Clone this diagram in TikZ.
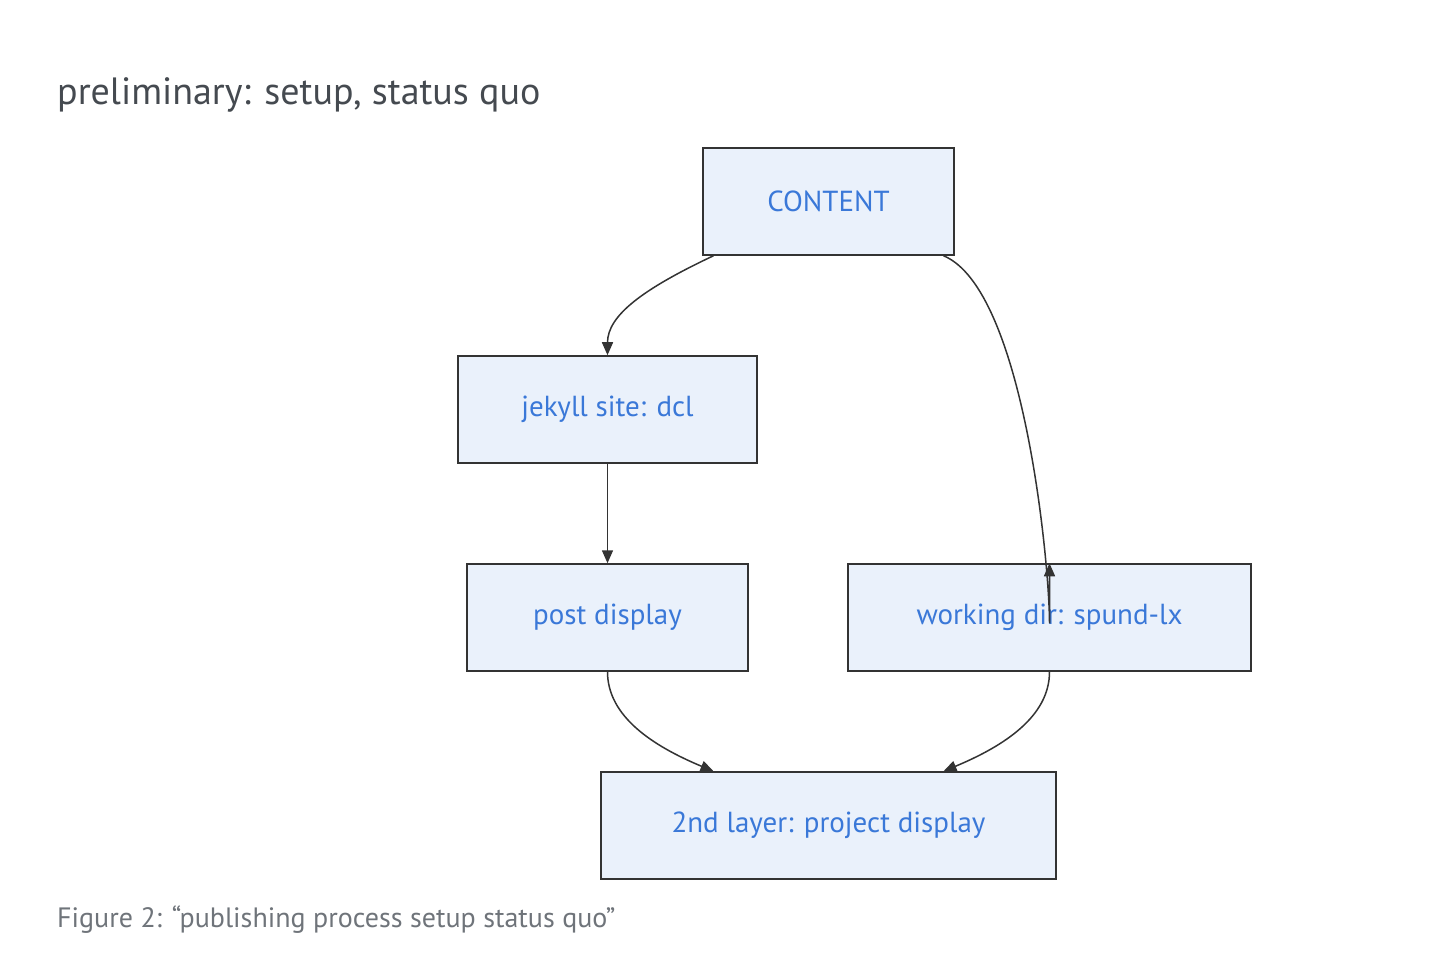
\documentclass[tikz,border=0pt]{standalone}
\usepackage{fontspec}
\setmainfont{PT Sans}
\usetikzlibrary{arrows.meta}
\definecolor{boxfill}{HTML}{EAF1FB}
\definecolor{boxtext}{HTML}{3A78D8}
\definecolor{edge}{HTML}{333333}
\definecolor{titlec}{HTML}{454A50}
\definecolor{capc}{HTML}{6F747A}
\begin{document}
\begin{tikzpicture}[x=1pt,y=-1pt,
  box/.style={draw=edge,line width=1.5pt,fill=boxfill,text=boxtext,font=\fontsize{29}{34}\selectfont,inner sep=0pt,minimum height=107pt,anchor=center},
  arr/.style={draw=edge,line width=1.5pt,-{Triangle[length=13pt,width=11pt]}}]
\useasboundingbox (0,0) rectangle (1446,968);
\node[anchor=base west,text=titlec,font=\fontsize{38}{44}\selectfont,inner sep=0pt] (title) at (57,105) {preliminary: setup, status quo};
\node[box,minimum width=251pt] (c) at (828.5,201.5) {CONTENT};
\node[box,minimum width=299pt] (j) at (607.5,409.5) {jekyll site: dcl};
\node[box,minimum width=281pt] (p) at (607.5,617.5) {post display};
\node[box,minimum width=403pt] (w) at (1049.5,617.5) {working dir: spund-lx};
\node[box,minimum width=455pt] (l) at (828.5,825.5) {2nd layer: project display};
\node[anchor=base west,text=capc,font=\fontsize{28}{34}\selectfont,inner sep=0pt] (cap) at (57,927) {Figure 2: “publishing process setup status quo”};
\draw[arr] ([xshift=-115pt]c.south) .. controls +(-70,33) and +(0,-40) .. (j.north);
\draw[arr] ([xshift=115pt]c.south) .. controls +(80,33) and +(0,-60) .. ([yshift=-60pt]w.north) -- (w.north);
\draw[arr] (j.south) -- (p.north);
\draw[arr] (p.south) .. controls +(0,45) and +(-60,-25) .. ([xshift=-115pt]l.north);
\draw[arr] (w.south) .. controls +(0,45) and +(60,-25) .. ([xshift=115pt]l.north);
\end{tikzpicture}
\end{document}
